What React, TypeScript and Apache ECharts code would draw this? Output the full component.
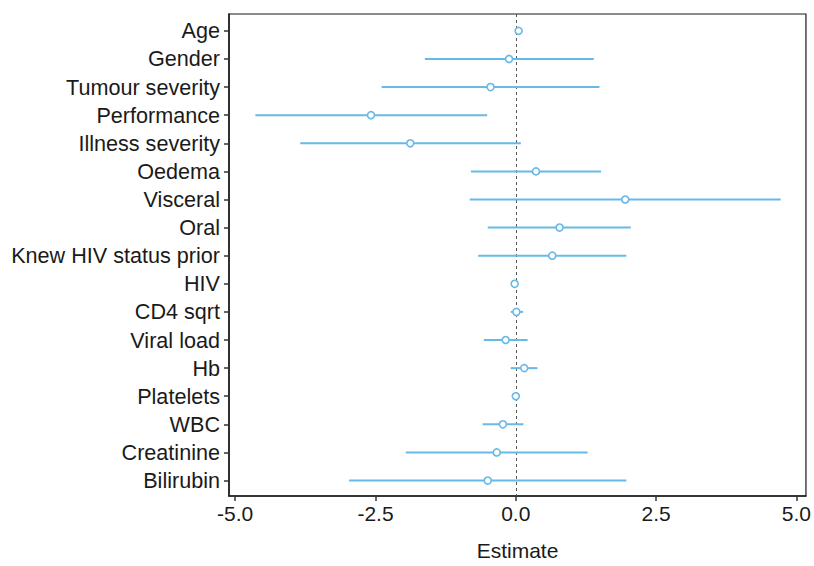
import React, { useEffect, useRef } from "react";
import * as echarts from "echarts";

const categories = [
  "Age",
  "Gender",
  "Tumour severity",
  "Performance",
  "Illness severity",
  "Oedema",
  "Visceral",
  "Oral",
  "Knew HIV status prior",
  "HIV",
  "CD4 sqrt",
  "Viral load",
  "Hb",
  "Platelets",
  "WBC",
  "Creatinine",
  "Bilirubin",
];

const estimates = [0.05, -0.12, -0.45, -2.58, -1.88, 0.36, 1.95, 0.78, 0.65, -0.02, 0.01, -0.18, 0.15, 0.0, -0.23, -0.34, -0.5];
const lowerCI = [0.03, -1.62, -2.39, -4.64, -3.84, -0.8, -0.82, -0.5, -0.67, -0.03, -0.09, -0.57, -0.09, -0.01, -0.59, -1.96, -2.97];
const upperCI = [0.07, 1.39, 1.49, -0.51, 0.09, 1.52, 4.72, 2.05, 1.97, -0.01, 0.13, 0.21, 0.385, 0.01, 0.135, 1.28, 1.97];

const xTicks = [-5, -2.5, 0, 2.5, 5];

const BLUE = "#67B9E8";
const FONT = "Liberation Sans, Arial, Helvetica, sans-serif";

export default function App() {
  const ref = useRef<HTMLDivElement>(null);

  useEffect(() => {
    if (!ref.current) return;
    const chart = echarts.init(ref.current, undefined, { renderer: "svg" });
    const idx = categories.map((_, i) => i);

    const option: any = {
      animation: false,
      backgroundColor: "#ffffff",
      grid: {
        left: 229,
        right: 8,
        top: 14,
        bottom: 69,
        show: true,
        borderColor: "#1a1a1a",
        borderWidth: 1.2,
        backgroundColor: "transparent",
      },
      xAxis: {
        type: "value",
        min: -5.11,
        max: 5.17,
        name: "Estimate",
        nameLocation: "middle",
        nameGap: 44,
        nameTextStyle: { fontFamily: FONT, fontSize: 21, color: "#1a1a1a" },
        axisLine: { show: true, onZero: false, lineStyle: { color: "#1a1a1a", width: 1.5 } },
        axisTick: { show: true, length: 5, customValues: xTicks, lineStyle: { color: "#333", width: 1.5 } },
        axisLabel: {
          customValues: xTicks,
          formatter: (v: number) => v.toFixed(1),
          fontFamily: FONT,
          fontSize: 21,
          color: "#1a1a1a",
          margin: 7,
        },
        splitLine: { show: false },
      },
      yAxis: {
        type: "value",
        inverse: true,
        min: -0.6,
        max: 16.55,
        axisLine: { show: true, onZero: false, lineStyle: { color: "#1a1a1a", width: 1.5 } },
        axisTick: { show: true, length: 5, customValues: idx, lineStyle: { color: "#333", width: 1.5 } },
        axisLabel: {
          customValues: idx,
          formatter: (v: number) => categories[Math.round(v)] ?? "",
          fontFamily: FONT,
          fontSize: 21.6,
          color: "#1a1a1a",
          margin: 9,
        },
        splitLine: { show: false },
      },
      series: [
        {
          type: "custom",
          data: idx.map((i) => [i, lowerCI[i], upperCI[i]]),
          encode: { x: [1, 2], y: 0 },
          renderItem: (params: any, api: any) => {
            const y = api.value(0);
            const p1 = api.coord([api.value(1), y]);
            const p2 = api.coord([api.value(2), y]);
            return {
              type: "line",
              shape: { x1: p1[0], y1: p1[1], x2: p2[0], y2: p2[1] },
              style: { stroke: BLUE, lineWidth: 2 },
            };
          },
          z: 2,
        },
        {
          type: "scatter",
          data: idx.map((i) => [estimates[i], i]),
          symbol: "circle",
          symbolSize: 7,
          itemStyle: { color: "#ffffff", borderColor: BLUE, borderWidth: 1.6, opacity: 1 },
          z: 4,
          markLine: {
            silent: true,
            symbol: "none",
            label: { show: false },
            lineStyle: { color: "#555555", type: [3, 3], width: 1 },
            data: [{ xAxis: 0 }],
            z: 1,
          },
        },
      ],
    };

    chart.setOption(option);
    return () => chart.dispose();
  }, []);

  return (
    <div
      ref={ref}
      style={{ position: "absolute", left: 0, top: 0, width: 814, height: 566, background: "#fff" }}
    />
  );
}
